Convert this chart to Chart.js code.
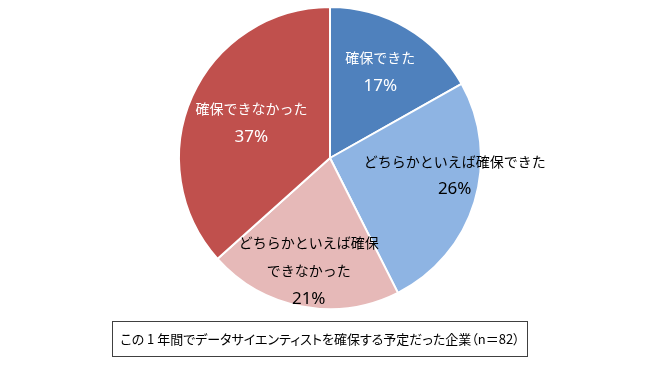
<!DOCTYPE html>
<html>
<head>
<meta charset="utf-8">
<script src="https://cdn.jsdelivr.net/npm/chart.js@4"></script>
<style>
  body { margin: 0; background: #fff; }
  #wrap { position: relative; width: 672px; height: 374px; }
  #note {
    position: absolute; left: 112px; top: 321px; width: 414px; height: 34px;
    border: 1px solid #404040; box-sizing: content-box;
    font: 13px "Noto Sans CJK JP", sans-serif; color: #000;
    font-feature-settings: "palt";
    white-space: nowrap; text-align: center; line-height: 34px;
  }
</style>
</head>
<body>
<div id="wrap">
  <canvas id="myChart" width="672" height="374"></canvas>
  <div id="note">この 1 年間でデータサイエンティストを確保する予定だった企業（n＝82）</div>
</div>
<script>
const labels = ['確保できた', 'どちらかといえば確保できた', 'どちらかといえば確保\nできなかった', '確保できなかった'];
const shares = [17, 26, 21, 37];
const colors = ['#4F81BD', '#8EB4E3', '#E6B9B8', '#C0504D'];
const textColors = ['#fff', '#000', '#000', '#fff'];

// label placement: [radius fraction, dx, dy]
const labelPos = [[0.66, 0, 0], [0.78, 12, -17], [0.76, 0, 0], [0.57, 0, 0]];

const sliceLabels = {
  id: 'sliceLabels',
  afterDatasetsDraw(chart) {
    const ctx = chart.ctx;
    const meta = chart.getDatasetMeta(0);
    ctx.save();
    ctx.textAlign = 'center';
    ctx.textBaseline = 'middle';
    meta.data.forEach((arc, i) => {
      const mid = (arc.startAngle + arc.endAngle) / 2;
      const p = labelPos[i];
      const r = arc.outerRadius * p[0];
      const x = arc.x + Math.cos(mid) * r + p[1];
      const y = arc.y + Math.sin(mid) * r + p[2];
      const lines = labels[i].split('\n');
      const n = lines.length + 1;
      const lh = 28;
      ctx.fillStyle = textColors[i];
      ctx.font = '14px "Noto Sans CJK JP", sans-serif';
      lines.forEach((t, j) => {
        ctx.fillText(t, x, y + (j - (n - 1) / 2) * lh);
      });
      ctx.font = '17px "Noto Sans", sans-serif';
      ctx.fillText(shares[i] + '%', x, y + ((n - 1) / 2) * lh);
    });
    ctx.restore();
  }
};

const ctx = document.getElementById('myChart').getContext('2d');
const myChart = new Chart(ctx, {
  type: 'pie',
  data: {
    labels: labels,
    datasets: [{
      data: shares,
      backgroundColor: colors,
      borderColor: '#fff',
      borderWidth: 2
    }]
  },
  options: {
    responsive: false,
    animation: false,
    layout: { padding: { left: 178, right: 190, top: 6, bottom: 64 } },
    plugins: { legend: { display: false }, tooltip: { enabled: false } }
  },
  plugins: [sliceLabels]
});
</script>
</body>
</html>
